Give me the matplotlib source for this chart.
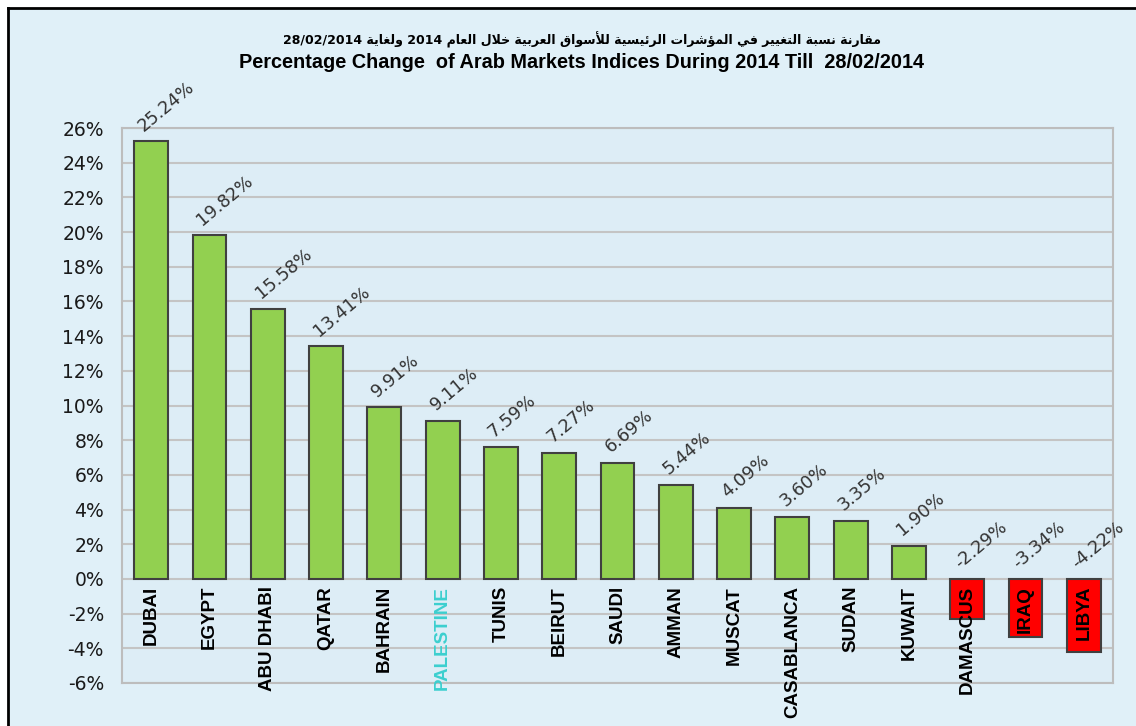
import matplotlib
matplotlib.use("Agg")
import matplotlib.pyplot as plt
from matplotlib.patches import Rectangle
from matplotlib.lines import Line2D
from matplotlib.ticker import FuncFormatter

# Chart data
markets = ["DUBAI", "EGYPT", "ABU DHABI", "QATAR", "BAHRAIN", "PALESTINE", "TUNIS",
           "BEIRUT", "SAUDI", "AMMAN", "MUSCAT", "CASABLANCA", "SUDAN", "KUWAIT",
           "DAMASCUS", "IRAQ", "LIBYA"]
changes = [25.24, 19.82, 15.58, 13.41, 9.91, 9.11, 7.59, 7.27, 6.69, 5.44, 4.09,
           3.60, 3.35, 1.90, -2.29, -3.34, -4.22]
yticks = list(range(-6, 27, 2))

title_ar = "مقارنة نسبة التغيير في المؤشرات الرئيسية للأسواق العربية خلال العام 2014 ولغاية 28/02/2014"
title_en = "Percentage Change  of Arab Markets Indices During 2014 Till  28/02/2014"

# Arabic contextual forms (isolated codepoint, joins to next letter?)
JOIN = {
    "ا": (0xFE8D, False), "أ": (0xFE83, False), "ؤ": (0xFE85, False),
    "ئ": (0xFE89, True), "ب": (0xFE8F, True), "ة": (0xFE93, False),
    "ت": (0xFE95, True), "ح": (0xFEA1, True), "خ": (0xFEA5, True),
    "ر": (0xFEAD, False), "س": (0xFEB1, True), "ش": (0xFEB5, True),
    "ع": (0xFEC9, True), "غ": (0xFECD, True), "ف": (0xFED1, True),
    "ق": (0xFED5, True), "ل": (0xFEDD, True), "م": (0xFEE1, True),
    "ن": (0xFEE5, True), "ه": (0xFEE9, True), "و": (0xFEED, False),
    "ي": (0xFEF1, True), "ى": (0xFEEF, False),
}
LAM_ALEF = {"ا": 0xFEFB, "أ": 0xFEF7}


def shape_word(w):
    out = []
    k = 0
    n = len(w)
    while k < n:
        c = w[k]
        if c not in JOIN:
            out.append(c)
            k += 1
            continue
        prev = k > 0 and w[k - 1] in JOIN and JOIN[w[k - 1]][1]
        if c == "ل" and k + 1 < n and w[k + 1] in LAM_ALEF:
            base = LAM_ALEF[w[k + 1]]
            out.append(chr(base + 1 if prev else base))
            k += 2
            continue
        base, dual = JOIN[c]
        nxt = dual and k + 1 < n and w[k + 1] in JOIN
        if prev and nxt:
            out.append(chr(base + 3))
        elif prev:
            out.append(chr(base + 1))
        elif nxt:
            out.append(chr(base + 2))
        else:
            out.append(chr(base))
        k += 1
    return "".join(reversed(out))


def rtl(text):
    words = []
    for w in text.split(" "):
        if any(ch in JOIN for ch in w):
            words.append(shape_word(w))
        else:
            words.append(w)
    return " ".join(reversed(words))


# Colours
fig_bg = "#e0f0f8"
ax_bg = "#ddedf6"
grid_col = "#c4c4c4"

fig = plt.figure(figsize=(11.36, 7.26), dpi=100, facecolor="white")
W, H = 1136, 726

# Chart area background + frame (top and left edges visible)
fig.patches.append(Rectangle((8 / W, 0), 1, 1 - 8 / H, transform=fig.transFigure,
                             facecolor=fig_bg, edgecolor="none", zorder=-10))
fig.lines.append(Line2D([8 / W, 1], [1 - 8 / H, 1 - 8 / H], transform=fig.transFigure,
                        color="black", linewidth=2, zorder=-5))
fig.lines.append(Line2D([8 / W, 8 / W], [0, 1 - 8 / H], transform=fig.transFigure,
                        color="black", linewidth=2, zorder=-5))

ax = fig.add_axes([122 / W, 1 - 683 / H, (1113 - 122) / W, (683 - 128) / H])
ax.set_facecolor(ax_bg)

x = list(range(len(markets)))
colors = ["#92D050" if v >= 0 else "#FF0000" for v in changes]
ax.bar(x, changes, width=0.58, color=colors, edgecolor="#404040", linewidth=1.5, zorder=3)

ax.set_xlim(-0.5, len(markets) - 0.5)
ax.set_ylim(-6, 26)
ax.set_yticks(yticks)
ax.yaxis.set_major_formatter(FuncFormatter(lambda v, p: "%d%%" % v))
ax.tick_params(axis="y", length=0, pad=13, labelsize=13.5, labelcolor="#1a1a1a")
ax.set_xticks([])
ax.grid(axis="y", color=grid_col, linewidth=1.5, zorder=1)
for s in ax.spines.values():
    s.set_color("#bdbdbd")
    s.set_linewidth(1.5)

# Value labels
for i, v in enumerate(changes):
    ax.text(i - 0.12, max(v, 0) + 0.55, "%.2f%%" % v, rotation=40, rotation_mode="anchor",
            ha="left", va="baseline", fontsize=12.8, color="#333333", zorder=4)

# Category labels below the zero line
for i, name in enumerate(markets):
    col = "#3CCFCF" if name == "PALESTINE" else "black"
    ax.text(i, -0.4, name, rotation=90, ha="center", va="top", fontsize=13.5,
            fontweight="bold", family="Liberation Sans", color=col, zorder=4)

# Titles
fig.text(0.512, 1 - 40 / H, rtl(title_ar), ha="center", va="center", fontsize=9,
         fontweight="bold", family=["DejaVu Sans"])
fig.text(0.512, 1 - 63 / H, title_en, ha="center", va="center", fontsize=14.3,
         fontweight="bold", family="Liberation Sans")

fig.savefig("out.png", dpi=100, facecolor=fig.get_facecolor())
